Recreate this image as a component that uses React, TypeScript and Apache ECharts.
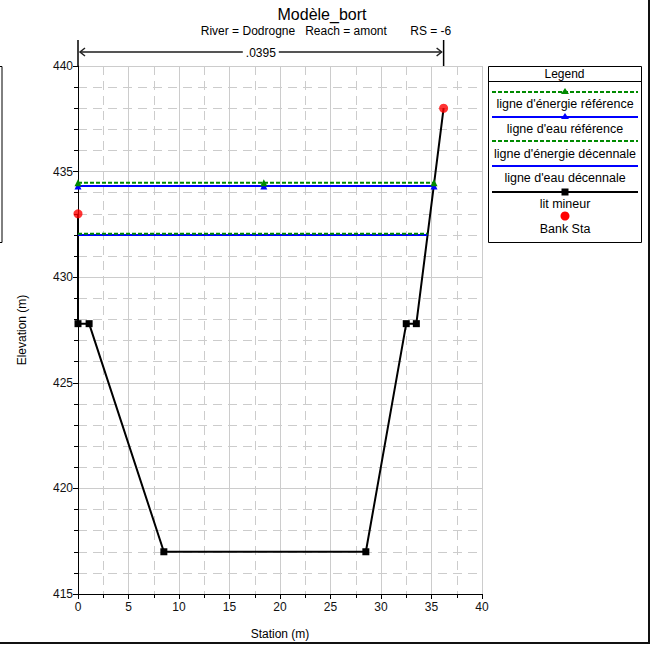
import React, { useEffect, useRef } from 'react';
import * as echarts from 'echarts';

const groundStation = [0, 0, 1.1, 8.5, 28.5, 32.5, 33.5, 36.2];
const groundElevation = [433, 427.8, 427.8, 417, 417, 427.8, 427.8, 438];
const bankStation = [0, 36.2];
const bankElevation = [433, 438];
const refStations = [0, 18.4, 35.25];
const refEnergy = 434.47;
const refWater = 434.32;
const decStations = [0, 34.6];
const decEnergy = 432.06;
const decWater = 432.0;
const xTicks = { min: 0, max: 40, interval: 5 };
const yTicks = { min: 415, max: 440, interval: 5 };
const manningN = '.0395';
const titleText = 'Modèle_bort';
const subtitleText = 'River = Dodrogne   Reach = amont       RS = -6';
const legendItems = [
  'ligne d\'énergie référence',
  'ligne d\'eau référence',
  'ligne d\'énergie décennale',
  'ligne d\'eau décennale',
  'lit mineur',
  'Bank Sta',
];

const FONT = '"Liberation Sans", Arial, sans-serif';
const GREEN = '#008a00';
const BLUE = '#0000ff';
const GRID_C = '#cccccc';

export default function App() {
  const ref = useRef<HTMLDivElement>(null);
  useEffect(() => {
    const chart = echarts.init(ref.current!, null, { renderer: 'svg' });
    const axisCommon = {
      type: 'value',
      axisLine: { show: true, onZero: false, lineStyle: { color: '#000', width: 1 } },
      axisTick: { show: true, inside: false, length: 5, lineStyle: { color: '#000' } },
      minorTick: { show: true, length: 4, lineStyle: { color: '#000' } },
      splitLine: { show: true, lineStyle: { color: GRID_C, width: 1 } },
      minorSplitLine: { show: true, lineStyle: { color: GRID_C, width: 1, type: [9, 6] } },
      axisLabel: { color: '#111', fontFamily: FONT, fontSize: 12 },
      nameTextStyle: { color: '#000', fontFamily: FONT, fontSize: 12 },
      nameLocation: 'middle',
    };
    const hline = (xs: number[], y: number) => xs.map((x) => [x, y]);
    chart.setOption({
      animation: false,
      grid: { left: 78, top: 66, width: 404, height: 529, containLabel: false },
      xAxis: {
        ...axisCommon,
        ...xTicks,
        name: 'Station (m)',
        nameGap: 34,
        minorTick: { ...axisCommon.minorTick, splitNumber: 2 },
        axisLabel: { ...axisCommon.axisLabel, margin: 7 },
      },
      yAxis: {
        ...axisCommon,
        ...yTicks,
        name: 'Elevation (m)',
        nameGap: 50,
        nameRotate: 90,
        minorTick: { ...axisCommon.minorTick, splitNumber: 5 },
        axisLabel: { ...axisCommon.axisLabel, margin: 5 },
      },
      series: [
        {
          name: 'lit mineur',
          type: 'line',
          data: groundStation.map((x, i) => {
            const last = i === 0 || i === groundStation.length - 1;
            return last ? { value: [x, groundElevation[i]], symbol: 'none' } : [x, groundElevation[i]];
          }),
          lineStyle: { color: '#000', width: 2 },
          itemStyle: { color: '#000' },
          symbol: 'rect',
          symbolSize: 7,
          showSymbol: true,
          z: 3,
        },
        {
          name: 'ligne d\'eau décennale',
          type: 'line',
          data: hline(decStations, decWater),
          lineStyle: { color: BLUE, width: 2 },
          symbol: 'none',
          z: 4,
        },
        {
          name: 'ligne d\'énergie décennale',
          type: 'line',
          data: hline(decStations, decEnergy),
          lineStyle: { color: GREEN, width: 2, type: [4, 2] },
          symbol: 'none',
          z: 4,
        },
        {
          name: 'ligne d\'eau référence',
          type: 'line',
          data: hline(refStations, refWater),
          lineStyle: { color: BLUE, width: 2 },
          itemStyle: { color: BLUE },
          symbol: 'triangle',
          symbolSize: 7,
          showSymbol: true,
          z: 4,
        },
        {
          name: 'ligne d\'énergie référence',
          type: 'line',
          data: hline(refStations, refEnergy),
          lineStyle: { color: GREEN, width: 2, type: [4, 2] },
          itemStyle: { color: GREEN },
          symbol: 'triangle',
          symbolSize: 7,
          showSymbol: true,
          z: 5,
        },
        {
          name: 'Bank Sta',
          type: 'scatter',
          data: bankStation.map((x, i) => [x, bankElevation[i]]),
          itemStyle: { color: '#ff0000' },
          symbol: 'circle',
          symbolSize: 9,
          z: 6,
        },
      ],
    });

    const pL = chart.convertToPixel({ gridIndex: 0 }, [bankStation[0], yTicks.max]) as number[];
    const pR = chart.convertToPixel({ gridIndex: 0 }, [bankStation[1], yTicks.max]) as number[];
    const arrowY = 52;
    const xl = pL[0];
    const xr = pR[0];
    const xm = (xl + xr) / 2;

    const LX = 488, LY = 66, LW = 153, LH = 176;
    const lx1 = 492, lx2 = 638, mx = 565;
    const rows = [
      { lineY: 92, textY: 104 },
      { lineY: 117, textY: 129 },
      { lineY: 141, textY: 154 },
      { lineY: 166, textY: 178 },
      { lineY: 192, textY: 204 },
      { lineY: 216, textY: 229 },
    ];
    const legendEls: any[] = [
      { type: 'rect', shape: { x: LX + 0.5, y: LY + 0.5, width: LW, height: LH }, style: { fill: '#fff', stroke: '#000', lineWidth: 1 } },
      { type: 'text', x: LX + LW / 2, y: LY + 8, style: { text: 'Legend', fill: '#000', font: `12px ${FONT}`, textAlign: 'center', textVerticalAlign: 'middle' } },
      { type: 'line', shape: { x1: LX, y1: 81.5, x2: LX + LW, y2: 81.5 }, style: { stroke: '#000', lineWidth: 1 } },
    ];
    const lineStyles = [
      { stroke: GREEN, lineWidth: 2, lineDash: [4, 2] },
      { stroke: BLUE, lineWidth: 2 },
      { stroke: GREEN, lineWidth: 2, lineDash: [4, 2] },
      { stroke: BLUE, lineWidth: 2 },
      { stroke: '#000', lineWidth: 2 },
      null,
    ];
    rows.forEach((r, i) => {
      const ls = lineStyles[i];
      if (ls) legendEls.push({ type: 'line', shape: { x1: lx1, y1: r.lineY, x2: lx2, y2: r.lineY }, style: ls });
      legendEls.push({ type: 'text', x: mx, y: r.textY, style: { text: legendItems[i], fill: '#000', font: `12.5px ${FONT}`, textAlign: 'center', textVerticalAlign: 'middle' } });
    });
    legendEls.push({ type: 'polygon', shape: { points: [[mx, rows[0].lineY - 4], [mx - 4, rows[0].lineY + 2], [mx + 4, rows[0].lineY + 2]] }, style: { fill: GREEN } });
    legendEls.push({ type: 'polygon', shape: { points: [[mx, rows[1].lineY - 4], [mx - 4, rows[1].lineY + 2], [mx + 4, rows[1].lineY + 2]] }, style: { fill: BLUE } });
    legendEls.push({ type: 'rect', shape: { x: mx - 3.5, y: rows[4].lineY - 3.5, width: 7, height: 7 }, style: { fill: '#000' } });
    legendEls.push({ type: 'circle', shape: { cx: mx, cy: rows[5].lineY, r: 4.5 }, style: { fill: '#ff0000' } });

    chart.setOption({
      graphic: [
        { type: 'text', x: 322, y: 14, style: { text: titleText, fill: '#000', font: `16px ${FONT}`, textAlign: 'center', textVerticalAlign: 'middle' } },
        { type: 'text', x: 326, y: 31, style: { text: subtitleText, fill: '#000', font: `12px ${FONT}`, textAlign: 'center', textVerticalAlign: 'middle' } },
        { type: 'line', shape: { x1: xl, y1: 40, x2: xl, y2: 66 }, style: { stroke: '#000', lineWidth: 1.5 } },
        { type: 'line', shape: { x1: xr, y1: 40, x2: xr, y2: 66 }, style: { stroke: '#000', lineWidth: 1.5 } },
        { type: 'line', shape: { x1: xl + 2, y1: arrowY, x2: xr - 2, y2: arrowY }, style: { stroke: '#555', lineWidth: 2 } },
        { type: 'polyline', shape: { points: [[xl + 7, arrowY - 4], [xl + 2, arrowY], [xl + 7, arrowY + 4]] }, style: { stroke: '#222', lineWidth: 1.5, fill: 'none' } },
        { type: 'polyline', shape: { points: [[xr - 7, arrowY - 4], [xr - 2, arrowY], [xr - 7, arrowY + 4]] }, style: { stroke: '#222', lineWidth: 1.5, fill: 'none' } },
        { type: 'rect', shape: { x: xm - 18, y: arrowY - 7, width: 36, height: 14 }, style: { fill: '#fff' } },
        { type: 'text', x: xm, y: arrowY + 1, style: { text: manningN, fill: '#000', font: `12px ${FONT}`, textAlign: 'center', textVerticalAlign: 'middle' } },
        { type: 'rect', shape: { x: -10, y: 66.5, width: 12, height: 176 }, style: { fill: 'none', stroke: '#000', lineWidth: 1 } },
        { type: 'line', shape: { x1: 649, y1: 0, x2: 649, y2: 644 }, style: { stroke: '#111', lineWidth: 2 } },
        { type: 'line', shape: { x1: 0, y1: 643, x2: 650, y2: 643 }, style: { stroke: '#111', lineWidth: 2 } },
        ...legendEls,
      ],
    });
    return () => chart.dispose();
  }, []);
  return <div ref={ref} style={{ position: 'absolute', left: 0, top: 0, width: 651, height: 645 }} />;
}
